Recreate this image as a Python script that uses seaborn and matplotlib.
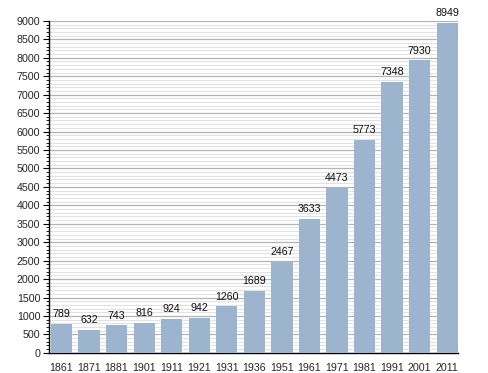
import matplotlib
matplotlib.use("Agg")
import matplotlib.pyplot as plt
import seaborn as sns
import pandas as pd
from matplotlib.ticker import MultipleLocator

years = ["1861", "1871", "1881", "1901", "1911", "1921", "1931", "1936",
         "1951", "1961", "1971", "1981", "1991", "2001", "2011"]
population = [789, 632, 743, 816, 924, 942, 1260, 1689,
              2467, 3633, 4473, 5773, 7348, 7930, 8949]

df = pd.DataFrame({"year": years, "pop": population})

sns.set_style("white")
plt.rcParams["font.family"] = ["Liberation Sans", "DejaVu Sans"]

fig = plt.figure(figsize=(4.88, 3.73), dpi=100)
ax = fig.add_axes([0.100, 0.054, 0.839, 0.890])

sns.barplot(data=df, x="year", y="pop", color="#9db4cf", saturation=1,
            width=0.77, ax=ax, zorder=3, edgecolor="none", linewidth=0)

ax.set_ylim(0, 9000)
ax.set_xlim(-0.46, 14.40)
ax.yaxis.set_major_locator(MultipleLocator(500))
ax.yaxis.set_minor_locator(MultipleLocator(100))
ax.grid(axis="y", which="minor", color="#e2e2e2", linewidth=0.8, zorder=0)
ax.grid(axis="y", which="major", color="#b4b4b4", linewidth=0.9, zorder=1)
ax.set_axisbelow(True)

for i, v in enumerate(population):
    ax.text(i, v + 130, str(v), ha="center", va="bottom", fontsize=7.7, color="#111111")

for s in ["top", "right"]:
    ax.spines[s].set_visible(False)
for s in ["left", "bottom"]:
    ax.spines[s].set_color("black")
    ax.spines[s].set_linewidth(1.0)

ax.tick_params(axis="y", which="major", left=True, length=4, width=0.8, color="black",
               labelsize=7.7, pad=2)
ax.tick_params(axis="y", which="minor", left=True, length=2, width=0.6, color="black")
ax.tick_params(axis="x", bottom=False, labelsize=7.7, pad=4)
ax.set_xlabel("")
ax.set_ylabel("")

fig.savefig("out.png", dpi=100)
